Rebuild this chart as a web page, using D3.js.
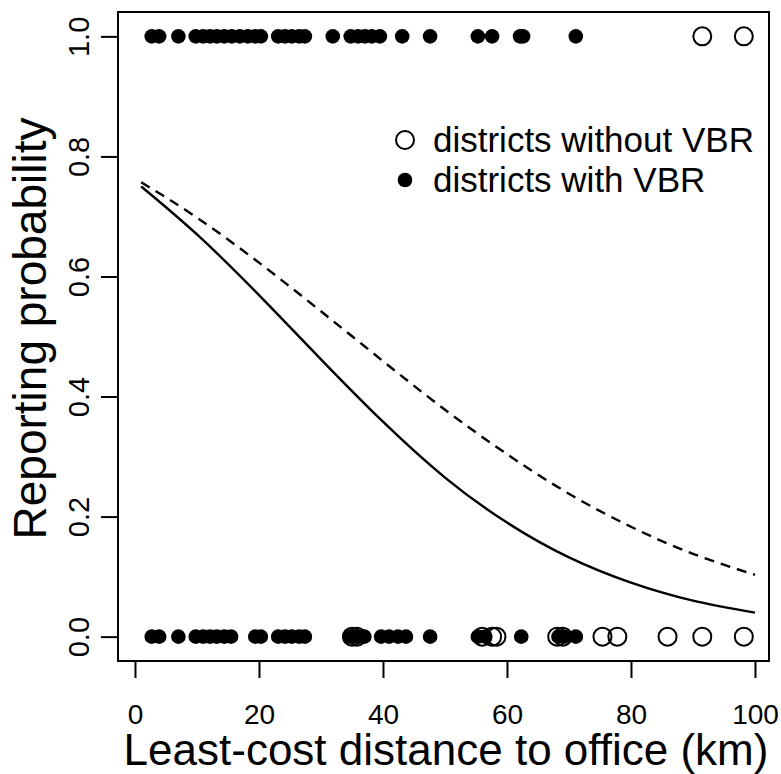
<!DOCTYPE html>
<html>
<head>
<meta charset="utf-8">
<script src="https://cdn.jsdelivr.net/npm/d3@7"></script>
<style>
  body { margin: 0; background: #fff; }
  text { font-family: "Liberation Sans", Arial, sans-serif; fill: #000; }
</style>
</head>
<body>
<div id="chart"></div>
<script>
// districts with VBR (filled), reported = 1
var vbrReported = [2.7, 3.9, 7.0, 9.8, 11.0, 12.1, 13.2, 14.4, 15.6, 16.9, 18.2, 19.4, 20.3,
  23.1, 24.2, 25.3, 26.5, 27.4, 31.9, 34.8, 36.0, 37.1, 38.2, 39.5, 43.1, 47.6,
  55.3, 57.6, 62.1, 62.6, 71.1];
// districts with VBR, reported = 0
var vbrNotReported = [2.7, 3.9, 7.0, 9.8, 11.0, 12.1, 13.2, 14.4, 15.5, 19.4, 20.3,
  23.1, 24.2, 25.3, 26.5, 27.4, 34.6, 35.3, 36.2, 37.0, 39.7, 41.0, 42.4, 43.7, 47.6,
  55.3, 56.5, 62.3, 68.3, 69.2, 71.1];
// districts without VBR (open)
var noVbrReported = [91.5, 98.2];
var noVbrNotReported = [35.0, 35.8, 56.0, 57.6, 58.3, 68.1, 69.0, 75.4, 77.8, 85.9, 91.5, 98.2];

// fitted curves
var curveX = [1, 10, 20, 30, 40, 50, 60, 70, 80, 90, 100];
var solidY = [0.750, 0.670, 0.569, 0.462, 0.358, 0.265, 0.190, 0.132, 0.090, 0.060, 0.040];
var dashedY = [0.757, 0.698, 0.623, 0.542, 0.459, 0.378, 0.304, 0.238, 0.183, 0.138, 0.103];

var xTicks = [0, 20, 40, 60, 80, 100];
var yTicks = [0, 0.2, 0.4, 0.6, 0.8, 1.0];

var svgWidth = 781, svgHeight = 774;
var box = { left: 118, right: 769, top: 12, bottom: 661 };

var svg = d3.select("#chart").append("svg")
  .attr("width", svgWidth)
  .attr("height", svgHeight);

var x = d3.scaleLinear().domain([-2.74, 102.26]).range([box.left, box.right]);
var y = d3.scaleLinear().domain([-0.0406, 1.0406]).range([box.bottom, box.top]);

// box
svg.append("rect")
  .attr("x", box.left).attr("y", box.top)
  .attr("width", box.right - box.left).attr("height", box.bottom - box.top)
  .attr("fill", "none").attr("stroke", "#000").attr("stroke-width", 2);

// x axis
var xAxis = svg.append("g")
  .attr("transform", `translate(0, ${box.bottom})`)
  .call(d3.axisBottom(x).tickValues(xTicks).tickSize(17).tickFormat(d3.format("d")));
xAxis.select(".domain")
  .attr("d", `M${x(0)},0H${x(100)}`)
  .attr("stroke-width", 2);
xAxis.selectAll(".tick line").attr("stroke-width", 2);
xAxis.selectAll(".tick text")
  .attr("y", 63).attr("dy", null)
  .style("font-family", "Liberation Sans, Arial, sans-serif")
  .style("font-size", "28px");

// y axis
var yAxis = svg.append("g")
  .attr("transform", `translate(${box.left}, 0)`)
  .call(d3.axisLeft(y).tickValues(yTicks).tickSize(17).tickFormat(d3.format(".1f")));
yAxis.select(".domain")
  .attr("d", `M0,${y(0)}V${y(1)}`)
  .attr("stroke-width", 2);
yAxis.selectAll(".tick line").attr("stroke-width", 2);
yAxis.selectAll(".tick text")
  .attr("x", null).attr("dy", null)
  .attr("transform", "translate(-29,0) rotate(-90)")
  .attr("text-anchor", "middle")
  .style("font-family", "Liberation Sans, Arial, sans-serif")
  .style("font-size", "29px");

// curves
var line = d3.line().x(d => x(d[0])).y(d => y(d[1])).curve(d3.curveNatural);
svg.append("path")
  .datum(curveX.map((v, i) => [v, solidY[i]]))
  .attr("d", line)
  .attr("fill", "none").attr("stroke", "#000").attr("stroke-width", 2.4);
svg.append("path")
  .datum(curveX.map((v, i) => [v, dashedY[i]]))
  .attr("d", line)
  .attr("fill", "none").attr("stroke", "#000").attr("stroke-width", 2.4)
  .attr("stroke-dasharray", "10,7");

// points
function filled(data, val) {
  svg.append("g").selectAll("circle")
    .data(data).enter().append("circle")
    .attr("cx", d => x(d)).attr("cy", y(val))
    .attr("r", 7.3).attr("fill", "#000");
}
function open(data, val) {
  svg.append("g").selectAll("circle")
    .data(data).enter().append("circle")
    .attr("cx", d => x(d)).attr("cy", y(val))
    .attr("r", 9).attr("fill", "none").attr("stroke", "#000").attr("stroke-width", 2);
}
open(noVbrNotReported, 0);
open(noVbrReported, 1);
filled(vbrNotReported, 0);
filled(vbrReported, 1);

// legend
var legend = svg.append("g");
legend.append("circle").attr("cx", 405).attr("cy", 140).attr("r", 9)
  .attr("fill", "none").attr("stroke", "#000").attr("stroke-width", 2);
legend.append("circle").attr("cx", 405).attr("cy", 180).attr("r", 7.3).attr("fill", "#000");
legend.append("text").attr("x", 433).attr("y", 152).style("font-size", "35px").text("districts without VBR");
legend.append("text").attr("x", 433).attr("y", 192).style("font-size", "35px").text("districts with VBR");

// axis titles
svg.append("text")
  .attr("transform", `translate(46, ${(box.top + box.bottom) / 2 - 8}) rotate(-90)`)
  .attr("text-anchor", "middle")
  .style("font-size", "46px")
  .text("Reporting probability");
svg.append("text")
  .attr("x", 446)
  .attr("y", 765)
  .attr("text-anchor", "middle")
  .style("font-size", "44px")
  .text("Least-cost distance to office (km)");
</script>
</body>
</html>
